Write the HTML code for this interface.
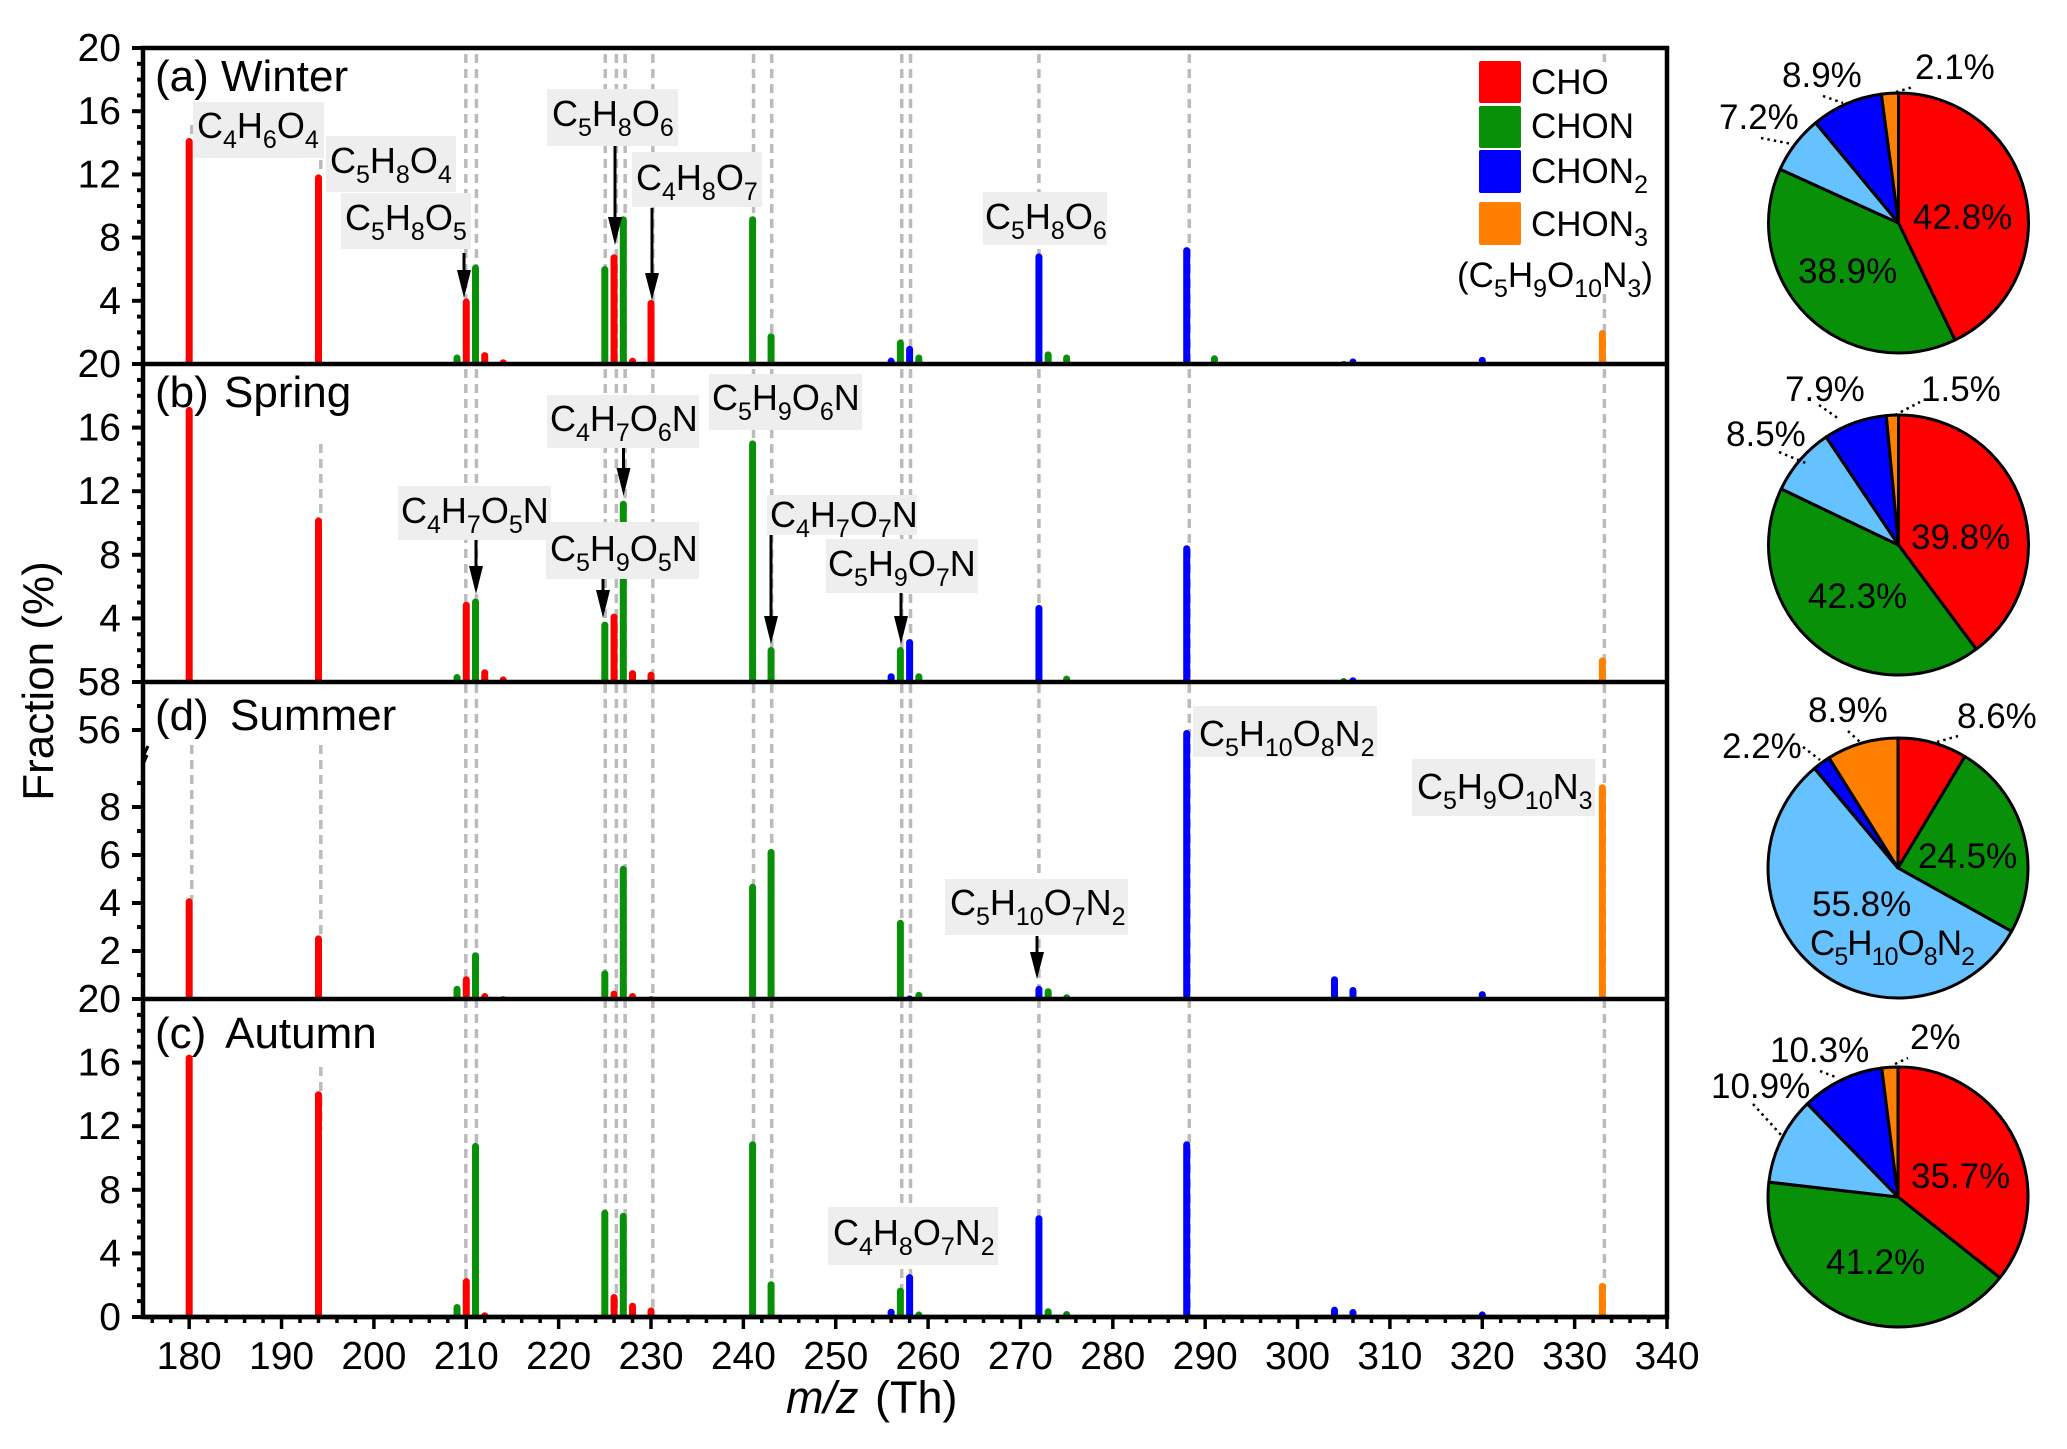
<!DOCTYPE html>
<html lang="en">
<head>
<meta charset="utf-8">
<title>Fraction by m/z across seasons</title>
<style>
html,body{margin:0;padding:0;background:#fff;}
svg{display:block;}
text{font-family:"Liberation Sans",sans-serif;fill:#000;}
.tick{font-size:39px;}
.panel{font-size:44px;}
.f{font-size:36px;}
.f .s{font-size:25px;baseline-shift:-10px;}
.l{font-size:35px;}
.l .s{font-size:25px;baseline-shift:-10px;}
.box{fill:#eeeeee;}
.leader{stroke:#000;stroke-width:2.5;stroke-dasharray:2.5 4;fill:none;}
.shaft{stroke:#000;stroke-width:3;}
</style>
</head>
<body>
<svg id="chart" xmlns="http://www.w3.org/2000/svg" width="2067" height="1449" viewBox="0 0 2067 1449">
<rect width="2067" height="1449" fill="#fff"/>
<g id="guides"></g>
<rect x="1450" y="62" width="215" height="232" fill="#fff"/>
<g id="bars"></g>

<g>
<g><rect class="box" x="193" y="102" width="131" height="56"/><text class="f" x="197" y="138">C<tspan class="s">4</tspan>H<tspan class="s">6</tspan>O<tspan class="s">4</tspan></text></g>
<g><rect class="box" x="326" y="136" width="130" height="56"/><text class="f" x="330" y="173">C<tspan class="s">5</tspan>H<tspan class="s">8</tspan>O<tspan class="s">4</tspan></text></g>
<g><rect class="box" x="341" y="193" width="130" height="56"/><text class="f" x="345" y="230">C<tspan class="s">5</tspan>H<tspan class="s">8</tspan>O<tspan class="s">5</tspan></text></g>
<g><rect class="box" x="547" y="89" width="131" height="57"/><text class="f" x="552" y="126">C<tspan class="s">5</tspan>H<tspan class="s">8</tspan>O<tspan class="s">6</tspan></text></g>
<g><rect class="box" x="632" y="152" width="130" height="55"/><text class="f" x="636" y="190">C<tspan class="s">4</tspan>H<tspan class="s">8</tspan>O<tspan class="s">7</tspan></text></g>
<g><rect class="box" x="983" y="192" width="124" height="53"/><text class="f" x="985" y="229">C<tspan class="s">5</tspan>H<tspan class="s">8</tspan>O<tspan class="s">6</tspan></text></g>

<g><rect class="box" x="547" y="395" width="152" height="53"/><text class="f" x="550" y="431">C<tspan class="s">4</tspan>H<tspan class="s">7</tspan>O<tspan class="s">6</tspan>N</text></g>
<g><rect class="box" x="709" y="374" width="153" height="56"/><text class="f" x="712" y="410">C<tspan class="s">5</tspan>H<tspan class="s">9</tspan>O<tspan class="s">6</tspan>N</text></g>
<g><rect class="box" x="398" y="486" width="153" height="54"/><text class="f" x="401" y="523">C<tspan class="s">4</tspan>H<tspan class="s">7</tspan>O<tspan class="s">5</tspan>N</text></g>
<g><rect class="box" x="546" y="522" width="153" height="57"/><text class="f" x="550" y="561">C<tspan class="s">5</tspan>H<tspan class="s">9</tspan>O<tspan class="s">5</tspan>N</text></g>
<g><rect class="box" x="767" y="495" width="150" height="40"/><text class="f" x="770" y="527">C<tspan class="s">4</tspan>H<tspan class="s">7</tspan>O<tspan class="s">7</tspan>N</text></g>
<g><rect class="box" x="826" y="539" width="152" height="54"/><text class="f" x="828" y="576">C<tspan class="s">5</tspan>H<tspan class="s">9</tspan>O<tspan class="s">7</tspan>N</text></g>

<g><rect class="box" x="1193" y="706" width="184" height="51"/><text class="f" x="1199" y="746">C<tspan class="s">5</tspan>H<tspan class="s">10</tspan>O<tspan class="s">8</tspan>N<tspan class="s">2</tspan></text></g>
<g><rect class="box" x="1412" y="759" width="183" height="57"/><text class="f" x="1417" y="799">C<tspan class="s">5</tspan>H<tspan class="s">9</tspan>O<tspan class="s">10</tspan>N<tspan class="s">3</tspan></text></g>
<g><rect class="box" x="945" y="879" width="183" height="56"/><text class="f" x="950" y="915">C<tspan class="s">5</tspan>H<tspan class="s">10</tspan>O<tspan class="s">7</tspan>N<tspan class="s">2</tspan></text></g>

<g><rect class="box" x="828" y="1207" width="170" height="58"/><text class="f" x="833" y="1245">C<tspan class="s">4</tspan>H<tspan class="s">8</tspan>O<tspan class="s">7</tspan>N<tspan class="s">2</tspan></text></g>
</g>

<g>
<g><line class="shaft" x1="464" y1="253" x2="464" y2="272"/><polygon points="457,270 471,270 464,298"/></g>
<g><line class="shaft" x1="615" y1="146" x2="615" y2="219"/><polygon points="608,217 622,217 615,245"/></g>
<g><line class="shaft" x1="652" y1="208" x2="652" y2="275"/><polygon points="645,273 659,273 652,300"/></g>
<g><line class="shaft" x1="623.5" y1="448" x2="623.5" y2="470"/><polygon points="616.5,468 630.5,468 623.5,496"/></g>
<g><line class="shaft" x1="476" y1="540" x2="476" y2="568"/><polygon points="469,566 483,566 476,594"/></g>
<g><line class="shaft" x1="603" y1="579" x2="603" y2="592"/><polygon points="596,590 610,590 603,618"/></g>
<g><line class="shaft" x1="771" y1="535" x2="771" y2="618"/><polygon points="764,616 778,616 771,644"/></g>
<g><line class="shaft" x1="901" y1="593" x2="901" y2="618"/><polygon points="894,616 908,616 901,644"/></g>
<g><line class="shaft" x1="1037" y1="936" x2="1037" y2="954"/><polygon points="1030,952 1044,952 1037,979"/></g>
</g>

<g id="axes"></g>
<g>
<line x1="148" y1="746" x2="143" y2="757" stroke="#000" stroke-width="3"/>
<line x1="147" y1="755" x2="142" y2="767" stroke="#000" stroke-width="3"/>
</g>

<g>
<text class="panel" x="155" y="91">(a) Winter</text>
<text class="panel" x="155" y="407" word-spacing="3">(b) Spring</text>
<text class="panel" x="155" y="730" word-spacing="9">(d) Summer</text>
<text class="panel" x="155" y="1048" word-spacing="9">(c) Autumn</text>
</g>

<text x="53" y="681" font-size="44" text-anchor="middle" transform="rotate(-90 53 681)">Fraction (%)</text>
<text x="786" y="1413" font-size="45" word-spacing="4"><tspan font-style="italic">m/z</tspan> (Th)</text>

<g>
<g><rect x="1479" y="61" width="42" height="42" rx="2" fill="#ff0000"/><text class="l" x="1531" y="94">CHO</text></g>
<g><rect x="1479" y="106" width="42" height="42" rx="2" fill="#089108"/><text class="l" x="1531" y="138">CHON</text></g>
<g><rect x="1479" y="150" width="42" height="43" rx="2" fill="#0000ff"/><text class="l" x="1531" y="183">CHON<tspan class="s">2</tspan></text></g>
<g><rect x="1479" y="202" width="42" height="43" rx="2" fill="#ff8000"/><text class="l" x="1531" y="236">CHON<tspan class="s">3</tspan></text></g>
<text class="l" x="1457" y="287">(C<tspan class="s">5</tspan>H<tspan class="s">9</tspan>O<tspan class="s">10</tspan>N<tspan class="s">3</tspan>)</text>
</g>

<g id="pies"></g>

<g>
<g>
<text class="l" x="1782" y="87">8.9%</text><text class="l" x="1915" y="79">2.1%</text><text class="l" x="1719" y="129">7.2%</text>
<text class="l" x="1913" y="229">42.8%</text><text class="l" x="1798" y="283">38.9%</text>
<line class="leader" x1="1823" y1="96" x2="1843" y2="103"/><line class="leader" x1="1896" y1="92" x2="1913" y2="87"/><line class="leader" x1="1761" y1="138" x2="1792" y2="144"/>
</g>
<g>
<text class="l" x="1785" y="401">7.9%</text><text class="l" x="1921" y="401">1.5%</text><text class="l" x="1726" y="446">8.5%</text>
<text class="l" x="1911" y="549">39.8%</text><text class="l" x="1808" y="608">42.3%</text>
<line class="leader" x1="1819" y1="405" x2="1839" y2="419"/><line class="leader" x1="1895" y1="415" x2="1920" y2="402"/><line class="leader" x1="1779" y1="452" x2="1808" y2="464"/>
</g>
<g>
<text class="l" x="1808" y="722">8.9%</text><text class="l" x="1957" y="728">8.6%</text><text class="l" x="1722" y="758">2.2%</text>
<text class="l" x="1918" y="868">24.5%</text><text class="l" x="1812" y="916">55.8%</text>
<text class="l" x="1810" y="955" textLength="165">C<tspan class="s">5</tspan>H<tspan class="s">10</tspan>O<tspan class="s">8</tspan>N<tspan class="s">2</tspan></text>
<line class="leader" x1="1848" y1="731" x2="1860" y2="742"/><line class="leader" x1="1937" y1="742" x2="1958" y2="736"/><line class="leader" x1="1803" y1="747" x2="1820" y2="760"/>
</g>
<g>
<text class="l" x="1910" y="1049">2%</text><text class="l" x="1770" y="1062">10.3%</text><text class="l" x="1711" y="1098">10.9%</text>
<text class="l" x="1911" y="1188">35.7%</text><text class="l" x="1826" y="1274">41.2%</text>
<line class="leader" x1="1895" y1="1064" x2="1908" y2="1058"/><line class="leader" x1="1820" y1="1071" x2="1838" y2="1078"/><line class="leader" x1="1753" y1="1104" x2="1782" y2="1136"/>
</g>
</g>
</svg>

<script>
const mzValues = [180,194,209,210,211,212,214,225,226,227,228,230,241,243,256,257,258,259,272,273,275,288,291,304,305,306,320,333];
const mzClass = ['CHO','CHO','CHON','CHO','CHON','CHO','CHO','CHON','CHO','CHON','CHO','CHO','CHON','CHON','CHON2','CHON','CHON2','CHON','CHON2','CHON','CHON','CHON2','CHON','CHON2','CHON','CHON2','CHON2','CHON3'];
const winterValues = [14.3,12.0,0.6,4.15,6.3,0.75,0.3,6.2,6.95,9.35,0.4,4.05,9.35,1.95,0.4,1.55,1.15,0.6,7.0,0.8,0.6,7.4,0.55,0,0.2,0.35,0.45,2.15];
const springValues = [17.3,10.35,0.5,5.05,5.25,0.8,0.35,3.8,4.3,11.4,0.75,0.65,15.2,2.2,0.55,2.2,2.7,0.55,4.85,0,0.4,8.6,0,0,0.25,0.3,0,1.55];
const summerValues = [4.2,2.65,0.55,0.95,1.95,0.25,0.12,1.2,0.35,5.55,0.25,0.12,4.8,6.25,0.1,3.3,0.15,0.3,0.55,0.45,0.2,56,0.08,0.95,0.1,0.5,0.33,8.95];
const autumnValues = [16.5,14.2,0.82,2.45,10.95,0.3,0,6.75,1.45,6.55,0.9,0.6,11.05,2.25,0.52,1.85,2.7,0.35,6.4,0.55,0.38,11.05,0.1,0.65,0.15,0.5,0.35,2.15];

const winterTickLabels = [4,8,12,16,20];
const springTickLabels = [4,8,12,16,20];
const summerTickLabels = [2,4,6,8,56,58];
const autumnTickLabels = [0,4,8,12,16,20];
const xTickLabels = [180,190,200,210,220,230,240,250,260,270,280,290,300,310,320,330,340];

const guideMz = [209.95,211.1,225.05,226.25,227.2,230.2,241.1,243.07,257.15,258.1,272,288.28,333.22];
const guideOffsetMz = [180.28,194.25];

const pieClasses = ['CHO','CHON','CHON2-main','CHON2','CHON3'];
const winterShares = [42.8,38.9,7.2,8.9,2.1];
const springShares = [39.8,42.3,8.5,7.9,1.5];
const summerShares = [8.6,24.5,55.8,2.2,8.9];
const autumnShares = [35.7,41.2,10.9,10.3,2];

const NS = 'http://www.w3.org/2000/svg';
const COLORS = {'CHO':'#ff0000','CHON':'#089108','CHON2':'#0000ff','CHON3':'#ff8000','CHON2-main':'#66c2ff'};
const AXIS_LEFT = 143, AXIS_RIGHT = 1667, PLOT_TOP = 48;

function xScale(m){ return AXIS_LEFT + (m - 175) * (AXIS_RIGHT - AXIS_LEFT) / 165; }
function linearY(bottom, top){ return function(v){ return bottom - v * (bottom - top) / 20; }; }
function summerY(v){ return v <= 10.25 ? 999 - v * 24 : 682 + (58 - v) * 24; }

const panelList = [
  {key:'winter', values:winterValues, ticks:winterTickLabels, y:linearY(364,48), bottom:364, minor:[1,2,3,5,6,7,9,10,11,13,14,15,17,18,19]},
  {key:'spring', values:springValues, ticks:springTickLabels, y:linearY(682,364), bottom:682, minor:[1,2,3,5,6,7,9,10,11,13,14,15,17,18,19]},
  {key:'summer', values:summerValues, ticks:summerTickLabels, y:summerY, bottom:999, minor:[1,3,5,7,9,57]},
  {key:'autumn', values:autumnValues, ticks:autumnTickLabels, y:linearY(1317,999), bottom:1317, minor:[1,2,3,5,6,7,9,10,11,13,14,15,17,18,19]}
];

function make(tag, attrs, parent){
  const el = document.createElementNS(NS, tag);
  for (const k in attrs) el.setAttribute(k, attrs[k]);
  parent.appendChild(el);
  return el;
}

const guidesG = document.getElementById('guides');
const barsG = document.getElementById('bars');
const axesG = document.getElementById('axes');
const piesG = document.getElementById('pies');
const GUIDE_STYLE = {stroke:'#bbbbbb','stroke-width':3.5,'stroke-dasharray':'9 6'};

guideMz.forEach(function(m){
  const el = make('line', Object.assign({x1:xScale(m),x2:xScale(m),y1:54,y2:1317}, GUIDE_STYLE), guidesG);
  
  
});
const shortGuides = [[[125,138],[745,900]],[[160,174],[444,520],[745,936],[1067,1130]]];
guideOffsetMz.forEach(function(m, i){
  shortGuides[i].forEach(function(seg){
    const el = make('line', Object.assign({x1:xScale(m),x2:xScale(m),y1:seg[0],y2:seg[1]}, GUIDE_STYLE), guidesG);
    
    
  });
});

panelList.forEach(function(p){
  p.values.forEach(function(v, i){
    if (v <= 0) return;
    const x = xScale(mzValues[i]);
    const top = p.y(v);
    const w = 3.5;
    const r = Math.min(w, p.bottom - top);
    const d = 'M' + (x - w) + ',' + p.bottom + ' V' + (top + r) + ' A' + w + ' ' + r + ' 0 0 1 ' + (x + w) + ',' + (top + r) + ' V' + p.bottom + ' Z';
    const el = make('path', {d:d, fill:COLORS[mzClass[i]]}, barsG);
    
    
  });
});

const frame = make('rect', {x:AXIS_LEFT, y:PLOT_TOP, width:AXIS_RIGHT-AXIS_LEFT, height:1317-PLOT_TOP, fill:'none', stroke:'#000', 'stroke-width':4.5}, axesG);



panelList.forEach(function(p){
  const sep = make('line', {x1:AXIS_LEFT, x2:AXIS_RIGHT, y1:p.bottom, y2:p.bottom, stroke:'#000', 'stroke-width':4.5}, axesG);
  
  
  p.ticks.forEach(function(v){
    const y = p.y(v);
    const t = make('line', {x1:132, x2:AXIS_LEFT, y1:y, y2:y, stroke:'#000', 'stroke-width':4}, axesG);
    
    
    const label = make('text', {class:'tick', x:121, y:y + 13, 'text-anchor':'end'}, axesG);
    
    
    label.textContent = String(v);
  });
  p.minor.forEach(function(v){
    const y = p.y(v);
    const t = make('line', {x1:137, x2:AXIS_LEFT, y1:y, y2:y, stroke:'#000', 'stroke-width':4}, axesG);
    
    
  });
});

xTickLabels.forEach(function(v){
  const x = xScale(v);
  const t = make('line', {x1:x, x2:x, y1:1317, y2:1329, stroke:'#000', 'stroke-width':3.5}, axesG);
  
  
  const label = make('text', {class:'tick', x:x, y:1369, 'text-anchor':'middle'}, axesG);
  
  
  label.textContent = String(v);
});
for (let m = 176; m < 340; m += 2) {
  if (m % 10 === 0) continue;
  const x = xScale(m);
  const t = make('line', {x1:x, x2:x, y1:1317, y2:1323, stroke:'#000', 'stroke-width':3.5}, axesG);
  
  
}

function drawPie(key, shares, cx, cy, r){
  const total = shares.reduce(function(a, b){ return a + b; }, 0);
  let acc = 0;
  shares.forEach(function(s, i){
    const a0 = acc / total * 2 * Math.PI;
    acc += s;
    const a1 = acc / total * 2 * Math.PI;
    const large = (a1 - a0) > Math.PI ? 1 : 0;
    const d = 'M' + cx + ',' + cy +
      ' L' + (cx + r * Math.sin(a0)) + ',' + (cy - r * Math.cos(a0)) +
      ' A' + r + ' ' + r + ' 0 ' + large + ' 1 ' + (cx + r * Math.sin(a1)) + ',' + (cy - r * Math.cos(a1)) + ' Z';
    const el = make('path', {d:d, fill:COLORS[pieClasses[i]], stroke:'#000', 'stroke-width':3, 'stroke-linejoin':'round'}, piesG);
    
    
  });
}
drawPie('winter', winterShares, 1898.5, 223, 130);
drawPie('spring', springShares, 1898.5, 545, 130);
drawPie('summer', summerShares, 1898, 868, 130);
drawPie('autumn', autumnShares, 1898, 1197, 130);
</script>
</body>
</html>
